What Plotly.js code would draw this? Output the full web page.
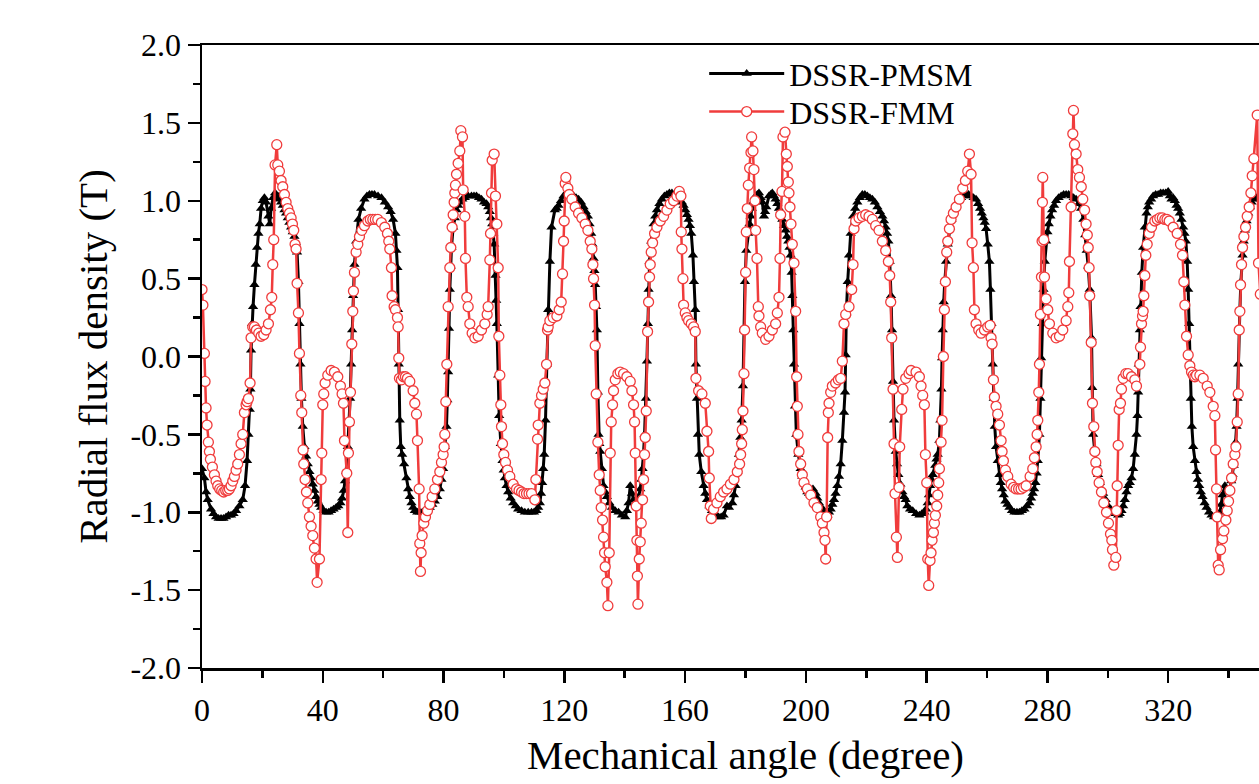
<!DOCTYPE html>
<html>
<head>
<meta charset="utf-8">
<script src="https://cdn.plot.ly/plotly-3.0.1.min.js"></script>
<style>
html,body{margin:0;padding:0;overflow:hidden;background:#fff;}
#chart{width:1330px;height:784px;}
</style>
</head>
<body>
<div id="chart"></div>
<script>
// DSSR-PMSM (black, triangles)
const pmsmAngle = [0,0.79,1.34,1.89,3.0,3.8,4.65,5.5,6.31,7.1,7.97,8.8,9.62,10.45,11.28,12.39,13.49,14.26,14.93,15.37,15.81,16.03,16.25,16.58,16.91,17.36,17.8,18.24,18.68,19.12,19.57,20.12,20.67,21.22,22.0,22.44,22.88,23.54,24.2,25.09,25.64,26.19,26.75,27.3,27.85,28.4,28.95,29.51,30.06,30.61,31.05,31.49,31.94,32.27,32.6,32.93,33.37,33.92,34.48,35.03,35.58,36.13,36.69,37.24,37.79,38.34,38.9,39.45,40.27,41.1,41.93,42.76,43.59,44.42,45.14,45.85,46.4,46.96,47.35,47.73,48.28,48.72,49.06,49.39,49.72,50.05,50.49,51.04,51.82,52.7,53.8,54.63,55.46,56.29,57.12,58.3,59.43,60.54,61.64,62.47,63.29,64.07,64.4,64.73,64.95,65.17,65.5,65.83,66.28,66.94,67.71,68.27,68.82,69.37,69.92,70.47,71.3,72.13,72.96,73.79,74.62,75.44,76.27,77.1,77.93,78.76,79.31,79.86,80.41,80.97,81.25,81.52,81.8,82.07,82.35,82.62,83.18,83.73,84.28,84.83,85.38,86.21,87.04,88.15,89.25,90.08,90.91,91.74,92.56,93.39,94.22,94.78,95.33,95.72,96.1,96.43,96.76,97.2,97.43,97.65,98.09,98.42,98.97,99.52,99.91,100.3,100.85,101.4,102.23,103.06,103.89,104.71,105.82,106.92,108.03,109.13,109.96,110.79,111.34,111.89,112.28,112.67,113.0,113.33,113.77,114.21,114.65,115.21,115.76,116.86,117.47,118.08,118.9,119.74,120.56,121.39,122.22,123.05,123.88,124.71,125.54,126.36,127.08,127.8,128.35,128.9,129.29,129.68,129.96,130.23,130.51,130.78,131.11,131.33,131.61,131.89,132.44,132.99,133.54,134.09,134.92,135.75,136.86,137.96,139.07,140.17,140.72,141.27,141.83,142.38,142.93,143.48,144.03,144.59,145.14,145.52,145.91,146.24,146.57,147.02,147.35,147.68,147.9,148.23,148.78,149.56,150.11,150.66,151.49,152.32,153.15,153.97,154.8,155.63,156.46,157.29,158.12,158.95,159.5,160.05,160.6,161.15,161.6,162.04,162.59,162.92,163.36,163.58,163.91,164.25,164.69,165.35,166.13,166.68,167.23,168.06,168.89,170.0,171.1,171.93,172.75,173.86,174.52,175.62,176.18,176.73,177.28,177.83,178.28,178.72,179.16,179.49,179.82,180.26,180.93,181.31,181.7,182.08,182.47,183.36,183.91,184.46,185.01,185.56,186.12,186.5,186.89,187.77,188.33,188.88,189.43,189.98,190.54,191.09,191.64,192.19,192.75,193.3,193.74,194.18,194.57,194.95,195.28,195.51,195.84,196.06,196.39,196.83,197.49,198.27,198.82,199.37,199.93,200.48,201.03,201.58,202.35,203.24,203.79,204.34,205.17,205.99,206.55,207.1,207.66,208.21,208.76,209.31,209.86,210.42,210.97,211.52,212.07,212.62,212.96,213.18,213.4,213.84,214.28,214.83,215.61,216.33,217.04,217.87,218.7,219.53,220.36,221.19,222.01,222.84,223.67,224.5,225.33,225.88,226.43,226.88,227.32,227.76,228.2,228.53,228.86,229.19,229.75,230.19,230.63,231.29,231.95,232.5,233.06,233.6,234.5,235.38,236.5,237.59,238.4,239.24,239.8,240.35,240.74,241.12,241.57,242.01,242.84,243.25,243.66,244.22,244.55,244.88,245.1,245.32,245.65,245.98,246.42,246.98,247.75,248.19,248.63,249.19,249.74,250.56,251.39,252.22,253.05,253.88,254.71,255.53,256.36,257.03,257.69,258.24,258.79,259.24,259.68,260.23,260.78,261.11,261.45,261.89,262.22,262.55,262.99,263.54,264.1,264.54,264.98,265.53,266.08,266.75,267.41,268.24,269.07,269.9,270.72,271.55,272.38,273.21,274.04,274.59,275.14,275.59,276.03,276.42,276.8,277.35,277.68,277.9,278.23,278.68,279.12,279.56,280.0,280.44,281.0,281.55,282.21,282.87,283.7,284.53,285.36,286.19,287.02,287.84,288.67,289.5,290.33,291.16,291.9,292.5,293.0,293.5,294.0,294.6,294.85,295.13,295.69,296.24,296.79,297.34,297.9,298.45,299.28,300.1,300.93,301.76,302.59,303.42,303.97,304.52,305.08,305.63,306.18,306.73,307.29,307.84,308.39,308.94,309.49,309.82,310.04,310.26,310.6,310.82,311.26,311.7,312.25,312.81,313.25,313.69,314.35,315.01,315.84,316.67,317.5,318.33,319.15,319.98,320.54,321.09,321.64,322.19,322.74,323.3,323.85,324.4,324.95,325.4,325.84,326.28,326.61,326.94,327.16,327.49,327.83,328.27,328.82,329.37,329.82,330.26,330.81,331.36,332.03,332.69,333.52,334.34,335.17,336.0,336.55,337.11,337.55,337.99,338.76,339.53,340.42,340.86,341.3,341.69,342.07,342.35,342.63,342.96,343.18,343.51,343.73,344.06,344.61,345.0,345.39,345.94,346.49,347.05,347.6,348.26,349.3,350.6];
const pmsmB = [-0.72,-0.78,-0.87,-0.92,-0.98,-1.01,-1.03,-1.04,-1.04,-1.04,-1.03,-1.02,-1.02,-1.01,-0.99,-0.96,-0.92,-0.83,-0.67,-0.50,-0.34,-0.21,0.04,0.21,0.32,0.46,0.59,0.70,0.79,0.85,0.95,1.00,1.02,0.99,0.90,0.85,0.95,1.02,1.05,1.03,1.01,0.99,0.97,0.94,0.92,0.89,0.86,0.83,0.80,0.77,0.73,0.67,0.48,0.21,-0.05,-0.27,-0.45,-0.58,-0.64,-0.69,-0.74,-0.78,-0.82,-0.86,-0.90,-0.93,-0.95,-0.97,-0.99,-1.00,-1.00,-0.99,-0.98,-0.97,-0.96,-0.94,-0.91,-0.86,-0.80,-0.74,-0.58,-0.43,-0.27,-0.05,0.17,0.39,0.59,0.74,0.88,0.95,1.01,1.03,1.04,1.04,1.04,1.03,1.02,0.99,0.96,0.93,0.88,0.79,0.68,0.57,0.30,-0.05,-0.41,-0.58,-0.63,-0.69,-0.78,-0.85,-0.90,-0.94,-0.97,-0.99,-1.00,-1.00,-1.00,-0.99,-0.98,-0.97,-0.95,-0.93,-0.90,-0.85,-0.79,-0.72,-0.58,-0.45,-0.28,-0.10,0.18,0.43,0.58,0.70,0.83,0.89,0.94,0.97,0.99,1.01,1.02,1.03,1.03,1.03,1.03,1.02,1.01,0.99,0.98,0.96,0.93,0.89,0.85,0.79,0.72,0.52,0.36,0.21,-0.12,-0.38,-0.56,-0.67,-0.73,-0.78,-0.83,-0.87,-0.91,-0.94,-0.96,-0.98,-0.99,-1.00,-1.00,-1.00,-1.00,-0.99,-0.97,-0.94,-0.88,-0.81,-0.72,-0.63,-0.41,-0.05,0.30,0.61,0.83,0.94,0.95,0.97,1.00,1.03,1.04,1.04,1.04,1.03,1.02,1.01,0.99,0.96,0.93,0.90,0.85,0.79,0.72,0.63,0.55,0.46,0.32,0.17,-0.23,-0.50,-0.56,-0.61,-0.72,-0.83,-0.87,-0.90,-0.94,-0.97,-0.99,-1.00,-1.02,-1.03,-0.99,-0.94,-0.83,-0.88,-0.92,-0.94,-0.94,-0.90,-0.85,-0.79,-0.72,-0.62,-0.50,-0.27,-0.03,0.21,0.43,0.61,0.74,0.85,0.90,0.94,0.98,1.01,1.03,1.04,1.05,1.05,1.04,1.03,1.01,0.99,0.97,0.94,0.91,0.88,0.84,0.79,0.65,0.48,0.30,-0.05,-0.27,-0.50,-0.63,-0.74,-0.83,-0.88,-0.92,-0.96,-0.99,-1.01,-1.03,-1.03,-1.02,-0.96,-0.97,-0.94,-0.89,-0.83,-0.74,-0.63,-0.52,-0.41,-0.19,0.17,0.48,0.68,0.79,0.85,0.90,0.95,0.99,1.03,1.04,1.05,1.02,0.99,0.90,0.93,0.96,1.03,1.04,1.05,1.03,1.01,0.98,0.95,0.91,0.88,0.84,0.81,0.77,0.74,0.70,0.65,0.54,0.39,0.17,-0.05,-0.32,-0.50,-0.63,-0.72,-0.77,-0.81,-0.84,-0.87,-0.88,-0.89,-0.85,-0.88,-0.91,-0.94,-0.97,-0.99,-1.01,-1.02,-1.00,-0.98,-0.95,-0.92,-0.88,-0.83,-0.77,-0.69,-0.54,-0.36,-0.23,0.01,0.28,0.48,0.65,0.79,0.90,0.95,0.99,1.02,1.04,1.04,1.03,1.02,1.01,0.99,0.96,0.93,0.90,0.87,0.83,0.79,0.74,0.61,0.39,0.17,-0.16,-0.41,-0.61,-0.69,-0.76,-0.82,-0.87,-0.90,-0.92,-0.96,-0.98,-0.99,-1.01,-1.02,-1.01,-1.00,-0.98,-0.94,-0.89,-0.83,-0.79,-0.76,-0.70,-0.66,-0.63,-0.54,-0.41,-0.21,-0.01,0.17,0.35,0.48,0.61,0.72,0.83,0.88,0.92,0.95,0.97,1.00,1.02,1.03,1.04,1.04,1.03,1.02,1.01,0.98,0.95,0.92,0.89,0.86,0.82,0.72,0.61,0.43,0.21,-0.05,-0.27,-0.45,-0.58,-0.67,-0.76,-0.81,-0.85,-0.89,-0.93,-0.95,-0.97,-0.99,-1.00,-1.00,-1.00,-0.99,-0.98,-0.96,-0.94,-0.91,-0.88,-0.85,-0.81,-0.75,-0.67,-0.50,-0.27,-0.01,0.21,0.43,0.61,0.74,0.80,0.85,0.90,0.94,0.97,1.00,1.02,1.03,1.04,1.04,1.04,1.03,1.02,1.01,0.98,0.95,0.88,0.78,0.68,0.58,0.43,0.12,-0.20,-0.50,-0.61,-0.69,-0.76,-0.81,-0.85,-0.88,-0.92,-0.96,-0.98,-1.00,-1.01,-1.02,-1.01,-0.99,-0.96,-0.92,-0.87,-0.83,-0.81,-0.78,-0.72,-0.63,-0.50,-0.38,-0.23,-0.05,0.17,0.32,0.54,0.70,0.83,0.92,0.96,0.99,1.01,1.03,1.04,1.04,1.05,1.05,1.05,1.06,1.03,1.01,1.02,1.00,0.97,0.95,0.92,0.88,0.83,0.79,0.74,0.61,0.43,0.21,-0.05,-0.27,-0.45,-0.58,-0.67,-0.74,-0.79,-0.83,-0.87,-0.90,-0.94,-0.97,-1.00,-1.02,-1.03,-1.03,-1.02,-1.00,-0.95,-0.89,-0.83,-0.87,-0.85,-0.80,-0.76,-0.70,-0.63,-0.55,-0.45,-0.27,-0.05,0.17,0.30,0.48,0.65,0.74,0.81,0.87,0.92,0.96,0.99,1.01,1.02,1.01];

// DSSR-FMM (red, open circles)
const fmmAngle = [0,0.3,0.79,1.01,1.34,1.67,2.11,2.45,2.78,3.44,4.10,4.65,5.21,5.87,6.53,7.19,7.86,8.52,9.07,9.62,10.18,10.73,11.28,11.83,12.39,12.94,13.49,14.04,14.6,14.93,15.37,15.92,16.25,16.8,17.36,18.02,18.79,19.57,20.45,21.22,22.0,22.66,23.1,23.43,23.76,24.2,24.76,25.09,25.64,26.19,26.74,27.3,27.85,28.4,28.95,29.51,29.95,30.39,30.83,31.16,31.49,31.94,32.27,32.71,33.04,33.48,33.7,34.14,34.59,35.03,35.58,36.13,36.69,37.24,37.79,38.12,38.9,39.45,39.67,40.0,40.33,40.77,41.66,42.76,43.86,44.97,45.85,46.4,46.85,47.18,47.95,48.28,48.5,48.83,49.17,49.61,49.94,50.16,50.49,51.04,51.6,52.15,52.92,53.8,54.91,55.74,56.57,57.4,58.22,59.4,60.53,61.42,61.86,62.19,62.74,62.96,63.63,64.07,64.73,64.95,65.17,65.39,66.06,66.72,67.38,68.04,68.82,69.92,70.47,71.03,71.36,71.91,72.13,72.35,72.57,72.9,73.46,74.01,74.67,75.44,76.22,77.1,77.98,78.76,79.31,79.86,80.19,80.41,80.75,81.08,81.52,82.07,82.4,82.84,83.18,83.51,83.73,83.95,84.28,84.83,85.38,85.72,86.27,86.49,87.04,87.26,87.7,88.15,88.7,89.47,90.36,91.46,92.56,93.67,94.44,94.77,95.33,95.55,95.88,96.1,96.76,97.2,97.65,98.09,98.31,98.64,98.97,99.19,99.52,99.96,100.52,101.18,101.95,103.06,104.16,105.0,105.82,106.65,107.47,108.3,109.13,110.24,110.57,111.12,111.34,111.89,112.45,113.0,113.55,114.1,114.43,114.65,115.21,116.31,117.53,118.3,118.96,119.4,119.74,119.96,120.29,120.51,121.17,121.61,122.5,123.6,124.71,125.81,126.92,127.8,128.57,129.12,129.46,129.68,130.01,130.23,130.56,131.11,131.55,131.89,132.22,132.66,132.99,133.32,133.54,134.09,134.43,134.87,135.2,135.53,135.97,136.3,136.86,137.74,138.51,139.62,140.72,141.83,142.38,142.93,143.26,143.48,143.81,144.03,144.2,144.37,144.81,145.14,145.47,145.91,146.24,146.57,146.8,147.13,147.57,147.9,148.23,148.45,148.78,149.23,149.89,150.66,151.77,152.87,153.97,155.08,156.19,157.29,158.06,158.61,158.72,158.95,159.28,159.5,160.05,160.6,161.15,162.04,162.81,163.36,163.58,164.47,165.57,166.68,167.23,167.78,168.0,168.34,168.67,169.44,170.54,171.65,172.75,173.86,175.0,176.18,177.28,178.05,178.39,178.72,178.94,179.16,179.49,179.71,180.04,180.26,180.59,180.93,181.37,181.81,182.03,182.47,182.8,183.13,183.36,183.8,184.24,184.46,185.01,185.56,186.67,187.77,188.88,189.98,190.54,191.09,191.42,191.64,192.08,192.41,193.08,193.52,193.85,194.18,194.4,194.73,195.06,195.5,196.06,196.61,196.94,197.16,197.38,197.71,198.27,198.82,199.37,200.48,201.58,202.68,203.79,204.89,205.45,206.0,206.33,206.55,206.88,207.21,207.43,207.66,208.21,208.76,209.86,210.75,211.52,212.07,212.62,213.18,214.28,215.17,215.61,215.94,216.49,217.6,218.7,219.8,220.91,222.01,223.12,224.22,225.33,226.43,227.32,227.76,228.09,228.42,228.86,229.19,229.52,229.97,230.3,230.85,231.07,231.73,232.17,233.06,234.16,234.83,236.48,237.59,238.14,238.69,239.24,239.58,240.02,240.35,240.68,241.12,241.45,241.79,242.23,242.56,242.89,243.33,243.66,243.99,244.22,244.77,245.1,245.54,245.87,246.2,246.64,246.98,247.53,248.08,248.85,249.74,250.84,251.95,252.83,253.6,254.16,254.71,255.04,255.48,255.81,256.36,257.25,258.02,259.13,260.23,261.0,261.33,261.67,262.11,262.44,262.99,263.54,264.1,264.65,264.98,265.42,266.08,266.86,267.96,268.8,269.62,270.45,271.27,272.1,272.93,274.26,275.14,275.69,276.25,276.58,276.8,277.13,277.35,277.68,278.01,278.23,278.34,278.45,278.79,279.01,279.56,280.11,280.66,281.77,282.87,283.98,285.08,286.19,286.74,287.07,287.29,287.84,288.4,288.62,288.95,289.5,290.05,290.6,291.2,291.7,292.3,292.8,293.2,293.5,293.8,294.0,294.5,294.91,295.35,295.69,296.02,296.46,297.12,297.89,298.67,299.55,300.21,300.88,301.32,301.54,301.98,302.64,302.87,303.09,303.42,303.75,304.19,304.52,305.07,305.96,306.73,307.84,308.94,309.49,310.6,310.82,311.15,311.48,311.7,311.92,312.25,312.58,313.03,313.69,314.46,315.57,316.4,317.22,318.05,318.88,319.6,320.32,321.64,322.97,324.07,324.73,325.18,325.51,326.06,326.61,327.16,327.72,328.27,328.82,329.37,330.48,331.58,332.91,333.79,334.9,335.45,335.67,336.0,336.22,336.55,336.88,337.33,337.99,338.43,339.09,339.53,339.98,340.42,340.97,341.52,342.07,342.41,342.85,343.18,343.51,343.73,343.95,344.28,344.61,345.06,345.61,346.16,346.82,347.38,347.82,348.37,349.47,349.9,350.5];
const fmmB = [0.43,0.33,0.02,-0.16,-0.33,-0.44,-0.55,-0.61,-0.66,-0.71,-0.76,-0.80,-0.83,-0.85,-0.86,-0.87,-0.86,-0.86,-0.85,-0.83,-0.80,-0.77,-0.73,-0.69,-0.63,-0.56,-0.50,-0.36,-0.31,-0.29,-0.27,-0.17,0.12,0.19,0.19,0.17,0.15,0.13,0.14,0.17,0.21,0.30,0.38,0.59,0.75,1.23,1.36,1.23,1.19,1.13,1.09,1.04,0.99,0.95,0.92,0.89,0.85,0.81,0.72,0.69,0.47,0.28,0.02,-0.25,-0.36,-0.60,-0.69,-0.79,-0.87,-0.94,-1.03,-1.09,-1.15,-1.23,-1.30,-1.45,-1.30,-0.79,-0.62,-0.31,-0.24,-0.17,-0.12,-0.09,-0.10,-0.13,-0.19,-0.24,-0.30,-0.54,-0.75,-1.13,-0.62,-0.42,-0.23,0.08,0.29,0.42,0.54,0.67,0.72,0.77,0.81,0.84,0.87,0.88,0.88,0.88,0.88,0.86,0.83,0.79,0.74,0.69,0.57,0.39,0.32,0.30,0.25,0.19,-0.01,-0.14,-0.15,-0.13,-0.13,-0.14,-0.16,-0.22,-0.30,-0.37,-0.54,-0.85,-1.20,-1.38,-1.26,-1.15,-1.07,-1.03,-0.99,-0.95,-0.90,-0.85,-0.79,-0.74,-0.68,-0.63,-0.58,-0.50,-0.29,-0.05,0.32,0.57,0.70,0.83,0.91,0.99,1.05,1.10,1.17,1.24,1.32,1.45,1.41,1.07,0.90,0.63,0.38,0.32,0.21,0.15,0.12,0.13,0.17,0.21,0.27,0.32,0.62,0.79,1.05,1.26,1.30,1.03,0.85,0.57,0.13,-0.12,-0.31,-0.45,-0.56,-0.63,-0.68,-0.73,-0.77,-0.82,-0.85,-0.86,-0.87,-0.88,-0.88,-0.88,-0.88,-0.92,-0.79,-0.53,-0.44,-0.30,-0.25,-0.21,-0.17,-0.05,0.17,0.19,0.23,0.25,0.26,0.30,0.35,0.53,0.74,0.87,1.11,1.15,1.08,1.04,1.01,0.96,0.92,0.89,0.85,0.81,0.74,0.69,0.59,0.50,0.33,0.07,-0.24,-0.55,-0.76,-0.86,-0.97,-1.05,-1.16,-1.26,-1.35,-1.45,-1.60,-1.26,-0.62,-0.42,-0.31,-0.22,-0.15,-0.11,-0.10,-0.11,-0.13,-0.16,-0.22,-0.31,-0.42,-0.62,-0.96,-1.18,-1.41,-1.59,-1.30,-1.19,-1.07,-0.92,-0.79,-0.63,-0.52,-0.35,0.16,0.35,0.51,0.59,0.67,0.73,0.79,0.83,0.87,0.90,0.94,0.98,1.00,1.03,1.06,1.03,0.80,0.69,0.50,0.33,0.28,0.25,0.23,0.21,0.19,0.16,-0.14,-0.22,-0.24,-0.30,-0.48,-0.61,-0.78,-0.96,-1.04,-0.98,-0.94,-0.90,-0.87,-0.85,-0.82,-0.79,-0.74,-0.69,-0.63,-0.56,-0.47,-0.35,-0.11,0.17,0.54,0.80,0.95,1.10,1.21,1.31,1.41,1.32,1.20,1.00,0.81,0.63,0.32,0.26,0.19,0.15,0.11,0.13,0.17,0.21,0.28,0.38,0.63,0.91,1.06,1.41,1.44,1.30,1.22,1.12,1.05,0.96,0.85,0.72,0.60,0.29,-0.13,-0.32,-0.50,-0.61,-0.69,-0.76,-0.81,-0.85,-0.89,-0.94,-0.97,-1.03,-1.07,-1.13,-1.18,-1.30,-1.03,-0.52,-0.36,-0.30,-0.23,-0.19,-0.17,-0.15,-0.14,-0.03,0.21,0.27,0.32,0.43,0.59,0.82,0.87,0.89,0.90,0.91,0.90,0.88,0.84,0.81,0.74,0.68,0.61,0.52,0.35,0.12,-0.21,-0.56,-0.88,-1.16,-1.29,-0.84,-0.58,-0.34,-0.21,-0.14,-0.11,-0.09,-0.10,-0.13,-0.19,-0.25,-0.31,-0.63,-0.81,-1.30,-1.47,-1.31,-1.26,-1.18,-1.13,-1.07,-1.02,-0.96,-0.89,-0.81,-0.72,-0.55,-0.41,0.00,0.30,0.48,0.67,0.74,0.82,0.88,0.92,0.96,1.01,1.08,1.13,1.19,1.30,1.17,0.73,0.57,0.30,0.21,0.17,0.15,0.17,0.19,0.20,0.12,0.08,-0.15,-0.26,-0.32,-0.37,-0.44,-0.54,-0.61,-0.67,-0.73,-0.77,-0.82,-0.84,-0.85,-0.85,-0.85,-0.84,-0.83,-0.77,-0.72,-0.65,-0.58,-0.50,-0.41,-0.23,-0.05,0.27,0.51,0.74,0.99,1.15,0.75,0.51,0.37,0.30,0.21,0.15,0.12,0.13,0.17,0.23,0.32,0.41,0.61,0.96,1.43,1.58,1.36,1.30,1.20,1.15,1.09,1.01,0.94,0.85,0.78,0.70,0.57,0.39,0.09,-0.30,-0.45,-0.61,-0.68,-0.74,-0.81,-0.87,-0.94,-1.00,-1.07,-1.14,-1.18,-1.24,-1.34,-1.29,-0.99,-0.83,-0.57,-0.34,-0.30,-0.21,-0.14,-0.11,-0.11,-0.13,-0.15,-0.19,-0.05,0.06,0.21,0.26,0.29,0.39,0.52,0.65,0.72,0.79,0.83,0.87,0.88,0.89,0.89,0.88,0.88,0.87,0.83,0.79,0.72,0.65,0.48,0.33,0.13,0.01,-0.06,-0.10,-0.12,-0.13,-0.12,-0.12,-0.14,-0.19,-0.23,-0.32,-0.38,-0.60,-0.85,-1.03,-1.34,-1.37,-1.24,-1.17,-1.12,-1.05,-0.99,-0.93,-0.86,-0.78,-0.69,-0.63,-0.58,-0.42,-0.24,0.17,0.29,0.46,0.59,0.70,0.77,0.83,0.90,0.96,1.05,1.16,1.27,1.55,0.60,0.40];

// Axis ticks
const xTickVals = [0,40,80,120,160,200,240,280,320];
const xTickText = ['0','40','80','120','160','200','240','280','320'];
const xMinorVals = [20,60,100,140,180,220,260,300,340];
const yTickVals = [-2,-1.5,-1,-0.5,0,0.5,1,1.5,2];
const yTickText = ['-2.0','-1.5','-1.0','-0.5','0.0','0.5','1.0','1.5','2.0'];
const yMinorVals = [-1.75,-1.25,-0.75,-0.25,0.25,0.75,1.25,1.75];

const serif = 'Liberation Serif, Times New Roman, serif';

const traces = [
  {
    x: pmsmAngle, y: pmsmB, name: 'DSSR-PMSM', type: 'scatter', mode: 'lines+markers',
    legend: 'legend',
    line: {color: '#000000', width: 3},
    marker: {symbol: 'triangle-up', size: 9, color: '#000000', line: {width: 0}}
  },
  {
    x: fmmAngle, y: fmmB, name: 'DSSR-FMM', type: 'scatter', mode: 'lines+markers',
    legend: 'legend2',
    line: {color: '#f03c3c', width: 2.5},
    marker: {symbol: 'circle', size: 10, color: '#ffffff', line: {color: '#f03c3c', width: 1.3}}
  }
];

const legendCommon = {
  xanchor: 'left', yanchor: 'top',
  bgcolor: 'rgba(0,0,0,0)', borderwidth: 0,
  font: {family: serif, size: 32, color: '#000000'},
  itemwidth: 75
};

const layout = {
  width: 1330, height: 784,
  margin: {l: 202, r: 41, t: 45, b: 116},
  paper_bgcolor: '#ffffff', plot_bgcolor: '#ffffff',
  font: {family: serif, color: '#000000', size: 32},
  showlegend: true,
  legend: Object.assign({x: 0.462, y: 0.998}, legendCommon),
  legend2: Object.assign({x: 0.462, y: 0.937}, legendCommon),
  xaxis: {
    range: [0, 360], showgrid: false, zeroline: false,
    showline: true, linecolor: '#000000', linewidth: 2.5, mirror: true,
    ticks: 'outside', ticklen: 12, tickwidth: 2.5, tickcolor: '#000000',
    tickmode: 'array', tickvals: xTickVals, ticktext: xTickText,
    tickfont: {family: serif, size: 32, color: '#000000'},
    minor: {tickmode: 'array', tickvals: xMinorVals, ticks: 'outside', ticklen: 7, tickwidth: 2.5, tickcolor: '#000000', showgrid: false},
    title: {text: 'Mechanical angle (degree)', font: {family: serif, size: 41, color: '#000000'}, standoff: 14}
  },
  yaxis: {
    range: [-2, 2], showgrid: false, zeroline: false,
    showline: true, linecolor: '#000000', linewidth: 2.5, mirror: true,
    ticks: 'outside', ticklen: 12, tickwidth: 2.5, tickcolor: '#000000',
    tickmode: 'array', tickvals: yTickVals, ticktext: yTickText,
    tickfont: {family: serif, size: 32, color: '#000000'},
    minor: {tickmode: 'array', tickvals: yMinorVals, ticks: 'outside', ticklen: 7, tickwidth: 2.5, tickcolor: '#000000', showgrid: false},
    title: {text: 'Radial flux density (T)', font: {family: serif, size: 41, color: '#000000'}, standoff: 10}
  }
};

Plotly.newPlot('chart', traces, layout, {displayModeBar: false, staticPlot: true});
</script>
</body>
</html>
